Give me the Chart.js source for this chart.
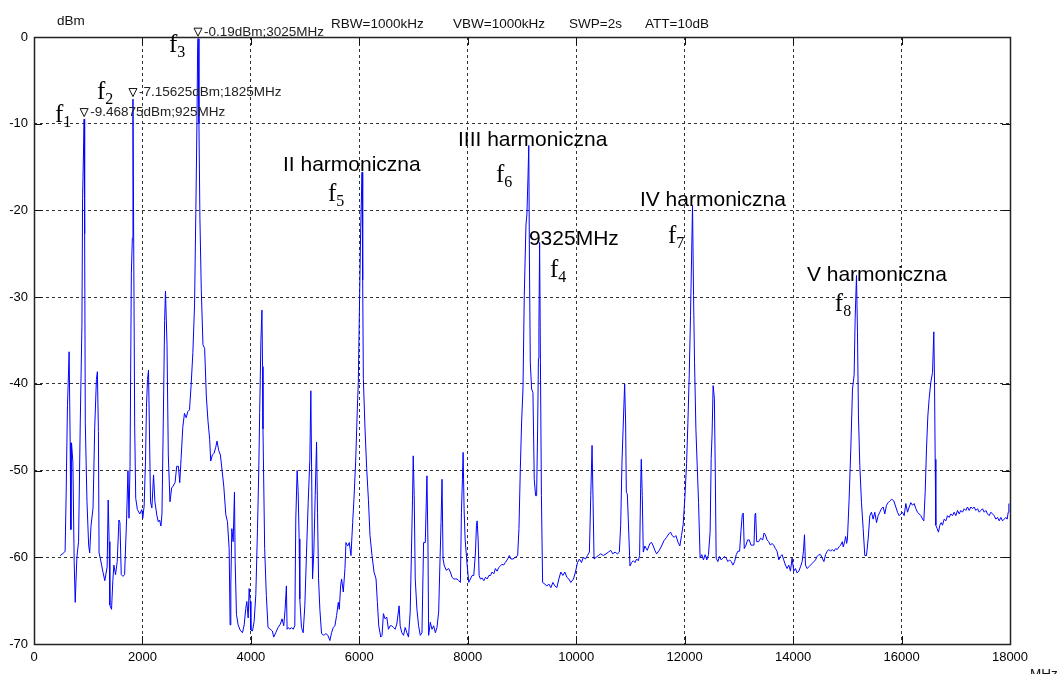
<!DOCTYPE html>
<html>
<head>
<meta charset="utf-8">
<title>Widmo sygnału</title>
<script src="https://cdn.jsdelivr.net/npm/chart.js@4.4.1/dist/chart.umd.min.js"></script>
<style>
  html, body { margin: 0; padding: 0; background: #fff; }
  #wrap { width: 1060px; height: 674px; position: relative; }
  canvas { display: block; }
</style>
</head>
<body>
<div id="wrap"><canvas id="spectrum" width="1060" height="674"></canvas></div>
<script>
// Measured spectrum trace: frequency (MHz) and level (dBm)
const traceMHz = [
  481, 530, 574, 593, 617, 630, 648, 667, 680, 692, 717, 741, 760, 791, 822, 853, 884, 896, 925, 934,
  946, 977, 1008, 1027, 1051, 1089, 1120, 1151, 1169, 1188, 1200, 1225, 1250, 1275, 1306, 1349, 1368, 1386, 1399, 1430,
  1454, 1473, 1504, 1535, 1566, 1585, 1609, 1640, 1671, 1708, 1733, 1752, 1771, 1795, 1814, 1825, 1839, 1857, 1876, 1907,
  1950, 1988, 2006, 2031, 2056, 2074, 2093, 2112, 2130, 2149, 2174, 2205, 2230, 2267, 2291, 2316, 2341, 2360, 2384, 2409,
  2425, 2453, 2477, 2508, 2539, 2564, 2601, 2632, 2663, 2688, 2713, 2744, 2775, 2806, 2837, 2868, 2899, 2930, 2961, 2986,
  3004, 3017, 3025, 3042, 3060, 3085, 3116, 3147, 3178, 3209, 3240, 3259, 3290, 3321, 3352, 3376, 3407, 3438, 3469, 3500,
  3538, 3568, 3599, 3617, 3630, 3648, 3673, 3697, 3710, 3734, 3765, 3802, 3845, 3876, 3906, 3925, 3950, 3968, 3987, 4000,
  4030, 4060, 4091, 4122, 4145, 4162, 4185, 4204, 4215, 4223, 4254, 4285, 4316, 4359, 4396, 4421, 4458, 4501, 4544, 4575,
  4606, 4631, 4655, 4668, 4692, 4717, 4748, 4779, 4810, 4828, 4853, 4871, 4890, 4902, 4933, 4964, 4995, 5026, 5057, 5087,
  5106, 5124, 5137, 5161, 5186, 5211, 5229, 5248, 5272, 5303, 5346, 5383, 5420, 5457, 5488, 5519, 5550, 5581, 5612, 5630,
  5655, 5673, 5704, 5735, 5753, 5784, 5815, 5846, 5877, 5901, 5932, 5963, 5981, 6000, 6025, 6050, 6062, 6074, 6105, 6136,
  6167, 6197, 6234, 6271, 6308, 6333, 6358, 6395, 6419, 6444, 6475, 6506, 6537, 6568, 6598, 6629, 6660, 6691, 6734, 6753,
  6784, 6815, 6845, 6876, 6907, 6938, 6963, 6981, 6994, 7012, 7031, 7062, 7093, 7124, 7155, 7185, 7216, 7247, 7266, 7278,
  7309, 7340, 7371, 7402, 7432, 7463, 7482, 7507, 7525, 7544, 7568, 7605, 7648, 7679, 7710, 7741, 7772, 7803, 7834, 7864,
  7883, 7901, 7914, 7932, 7951, 7988, 8018, 8049, 8080, 8111, 8142, 8160, 8173, 8191, 8209, 8234, 8265, 8296, 8327, 8358,
  8389, 8419, 8447, 8481, 8509, 8540, 8570, 8600, 8631, 8660, 8693, 8736, 8766, 8797, 8834, 8877, 8920, 8944, 8969, 8993,
  9018, 9042, 9073, 9091, 9110, 9125, 9137, 9153, 9177, 9202, 9226, 9251, 9270, 9288, 9303, 9312, 9325, 9340, 9358, 9380,
  9422, 9459, 9496, 9533, 9569, 9606, 9643, 9680, 9716, 9753, 9790, 9827, 9863, 9900, 9949, 9986, 10023, 10060, 10096, 10133,
  10170, 10207, 10243, 10268, 10292, 10311, 10329, 10366, 10409, 10452, 10501, 10550, 10593, 10636, 10673, 10716, 10759, 10795, 10820, 10844,
  10869, 10893, 10911, 10924, 10942, 10960, 10991, 11022, 11053, 11083, 11114, 11145, 11169, 11188, 11200, 11218, 11237, 11267, 11310, 11359,
  11390, 11421, 11451, 11482, 11531, 11574, 11617, 11666, 11709, 11740, 11770, 11807, 11838, 11881, 11911, 11942, 11973, 12004, 12035, 12059,
  12084, 12108, 12127, 12145, 12164, 12182, 12207, 12231, 12256, 12285, 12316, 12347, 12378, 12408, 12439, 12470, 12489, 12505, 12525, 12548,
  12565, 12581, 12612, 12643, 12674, 12704, 12735, 12766, 12797, 12828, 12859, 12890, 12921, 12951, 12982, 13013, 13038, 13062, 13081, 13099,
  13130, 13161, 13192, 13223, 13254, 13278, 13297, 13309, 13328, 13364, 13401, 13439, 13464, 13488, 13519, 13550, 13581, 13611, 13642, 13673,
  13704, 13735, 13766, 13796, 13827, 13858, 13889, 13920, 13951, 13981, 14012, 14043, 14074, 14105, 14136, 14167, 14191, 14210, 14228, 14259,
  14290, 14321, 14352, 14383, 14413, 14444, 14475, 14506, 14537, 14568, 14598, 14629, 14660, 14691, 14722, 14753, 14783, 14814, 14845, 14876,
  14907, 14925, 14950, 14969, 14987, 15002, 15033, 15064, 15095, 15125, 15144, 15169, 15187, 15205, 15230, 15261, 15292, 15322, 15353, 15384,
  15415, 15445, 15476, 15507, 15538, 15568, 15599, 15630, 15661, 15691, 15722, 15753, 15784, 15820, 15857, 15894, 15925, 15956, 15987, 16017,
  16048, 16079, 16110, 16141, 16171, 16202, 16233, 16264, 16294, 16325, 16356, 16387, 16411, 16436, 16460, 16485, 16509, 16540, 16571, 16595,
  16608, 16620, 16632, 16657, 16681, 16706, 16731, 16755, 16786, 16817, 16848, 16878, 16909, 16940, 16970, 17001, 17032, 17063, 17093, 17124,
  17155, 17186, 17216, 17247, 17278, 17309, 17339, 17370, 17401, 17432, 17462, 17493, 17524, 17555, 17585, 17616, 17647, 17678, 17708, 17739,
  17770, 17801, 17831, 17862, 17893, 17924, 17948, 17967, 17979
];

const traceDbm = [
  -59.8, -59.6, -59.3, -52.7, -42.5, -40, -36.3, -46.8, -56.8, -46.8, -49, -60.5, -65.2, -60, -58.2, -44.5, -33.2, -18.6, -9.46875, -22.7,
  -44.5, -53.6, -58.6, -59.5, -56.4, -54.3, -45, -39.5, -38.6, -45.5, -59.5, -60.2, -61, -61.8, -62.7, -61.1, -53.4, -58.2, -65.5, -66,
  -62.7, -60.9, -62, -60.5, -55.7, -56, -62, -62.2, -62, -55.5, -50, -55.5, -49.5, -27.3, -23.2, -7.15625, -23.9, -45, -53.2, -54.5,
  -55, -54.5, -55.5, -54.1, -49, -42.7, -39.5, -38.4, -45.9, -53.6, -54.3, -50.5, -53.6, -55.2, -55.9, -55.7, -56.4, -55, -44.5, -32.7,
  -29.3, -35.5, -48.2, -53.6, -52, -51.8, -51.4, -49.5, -49.5, -51.4, -48.6, -45, -43.4, -43.9, -43.2, -43, -40, -36.4, -30.9, -19.5,
  -10.5, -1.8, -0.19, -10, -20.9, -29.1, -35.5, -35.9, -41.4, -44.3, -46.4, -48.9, -48.2, -48, -47.3, -46.6, -47.7, -48.2, -50, -51.8,
  -55.1, -55.9, -59, -67.8, -63.2, -56.7, -58.2, -52.5, -60.5, -66.6, -67.8, -68.4, -68.7, -67.8, -65.9, -65.1, -67, -63.6, -65.1, -68.4,
  -68.5, -67.4, -64.3, -56.7, -50, -43.3, -35, -31.5, -38, -45.2, -59, -64.4, -68.1, -68.3, -68.5, -69.2, -68.7, -68.1, -67.7, -67.1,
  -67.9, -66, -63.3, -68.3, -68.1, -68.3, -68.1, -68.3, -67.9, -55.6, -50, -52.3, -57.9, -64.8, -68.1, -68.7, -65.6, -59.4, -53.7, -48.7,
  -40.8, -52.5, -62.5, -59.4, -52.9, -46.7, -54.8, -62.5, -66, -68.8, -69, -68.8, -69, -69.6, -68.7, -68.1, -67.9, -66.7, -65.2, -66,
  -63.3, -62.5, -64, -61.3, -58.3, -58.7, -58.3, -59.8, -56, -53.3, -49, -42.9, -39.8, -32, -22, -15.6, -28, -39.4, -45.2, -49.8,
  -53.3, -57.5, -59.8, -61.7, -62.5, -65.2, -67.9, -69.2, -69, -66.5, -67.1, -66.9, -68.3, -67.9, -67.9, -68.1, -68.3, -67.7, -65.6, -67.9,
  -68.7, -69, -68.1, -68.7, -69.2, -66.3, -58.7, -53.3, -48.3, -52.9, -62.5, -66, -67.9, -69, -68.7, -58.3, -58.3, -50.6, -58.7, -69,
  -67.5, -68.3, -67.9, -68.7, -68.1, -66.3, -61.7, -56, -51, -60.2, -61, -61.5, -61.3, -61.7, -62.3, -62.5, -62.5, -62.5, -62.7, -62.9,
  -54.8, -51, -47.9, -54.4, -57.9, -60.9, -62.9, -62.5, -62.1, -62.1, -59.4, -56.3, -55.8, -57.9, -62.1, -62.5, -62.4, -62.7, -62.3, -62.5,
  -62.1, -62.1, -61.7, -61.9, -61.3, -61.6, -61.2, -61, -60.8, -60.9, -60.6, -60.2, -59.8, -60.2, -60.2, -60, -59.8, -56.7, -49.8, -44.4,
  -40.6, -29.8, -21.7, -20.4, -16.3, -12.5, -25.6, -37.5, -40.6, -41, -51, -52.9, -52.9, -45.2, -37.1, -33.5, -23.7, -37.5, -52.9, -62.9,
  -63.1, -63.3, -63.1, -63.5, -62.9, -63.3, -63.5, -62.5, -61.7, -62.1, -61.7, -62.3, -62.5, -62.9, -62.5, -61.7, -60.6, -60.2, -60.6, -60,
  -60.2, -59.8, -59.4, -52.9, -47.1, -53.7, -60.2, -60, -59.8, -59.6, -59.8, -59.6, -59.4, -59.2, -59.6, -59.4, -59.6, -59.4, -56.3, -49,
  -44.4, -40, -44.4, -52.5, -52.7, -55.6, -61, -60.6, -60.4, -60.6, -60.2, -60.4, -59.8, -52.1, -48.7, -52.9, -59.4, -58.7, -59.2, -58.4,
  -58.3, -58.7, -59.2, -59.6, -59.2, -58.7, -58.1, -57.7, -57.3, -57.1, -57.5, -57.7, -57.5, -58.3, -58.7, -57.5, -56.2, -53.1, -49.2, -44.6,
  -39, -32.1, -25.6, -19.4, -29.8, -37.5, -45.2, -49.4, -53.7, -60.1, -59.7, -60.3, -59.7, -60.3, -59.7, -57, -48.6, -45.9, -40.2, -41.7,
  -50.5, -60.1, -60.5, -59.9, -60.3, -60.1, -59.9, -60.1, -60.5, -60.3, -60.5, -60.9, -60.5, -59.7, -59.3, -59.3, -57, -55.1, -54.9, -59,
  -58.6, -58, -58, -58.6, -58.6, -58.6, -55.1, -54.9, -58.2, -58.2, -57.8, -58, -57.2, -57.4, -58, -58.2, -58.6, -58.4, -58.6, -59,
  -59.3, -60.3, -59.9, -59.7, -60.3, -60.9, -61.3, -60.9, -61.6, -60.1, -61.6, -61.3, -61.8, -61.6, -61.1, -60.5, -59.3, -57.4, -60.9, -61.3,
  -61.1, -60.9, -60.7, -60.5, -60.3, -59.9, -59.7, -59.7, -60.1, -60.5, -59.7, -59.3, -59.1, -59.3, -59.1, -59.3, -59, -59.1, -58.8, -58.6,
  -58.2, -58.8, -58.2, -57.6, -58.4, -57.9, -53.3, -47.5, -40.6, -39, -32.5, -27.5, -34, -43.7, -49.4, -53.7, -56.7, -59.8, -59.8, -57.9,
  -55.2, -54.8, -55.6, -54.8, -56, -55.2, -54.8, -54.4, -54.2, -55, -54, -53.7, -53.5, -53.3, -53.5, -54.2, -54.8, -55.2, -55, -54.8,
  -55.2, -53.8, -54.8, -54.2, -53.7, -54, -53.8, -54.4, -54.8, -55, -55.2, -55.6, -55.8, -52.5, -47.5, -43.7, -41.7, -39.8, -38.7, -34,
  -39.8, -48.7, -56.3, -56.7, -57.1, -56.3, -56, -56.3, -55.6, -55.8, -55.2, -55.4, -55, -55.2, -54.8, -55.2, -54.6, -55, -54.6, -54.8,
  -54.4, -54.6, -54.2, -54.6, -54.2, -54.4, -54.2, -54.6, -54.4, -54.8, -54.6, -54.4, -54.8, -54.6, -55, -55.2, -54.8, -55, -55.2, -55.6,
  -55.4, -55.8, -55.4, -55.8, -55.6, -55.4, -55.6, -54.8, -53.8
];

// Axis ticks
const freqTicks = [0, 2000, 4000, 6000, 8000, 10000, 12000, 14000, 16000, 18000];
const levelTicks = [0, -10, -20, -30, -40, -50, -60, -70];

// Analyzer markers (frequency, level, readout)
const markerMHz = [925, 1825, 3025];
const markerDbm = [-9.46875, -7.15625, -0.19];
const markerText = ['-9.46875dBm;925MHz', '-7.15625dBm;1825MHz', '-0.19dBm;3025MHz'];

// Instrument settings line
const settingsText = ['RBW=1000kHz', 'VBW=1000kHz', 'SWP=2s', 'ATT=10dB'];

// Frequency labels f1..f8 (index, anchor MHz, anchor dBm)
const fIndex = ['1', '2', '3', '4', '5', '6', '7', '8'];
const fAnchorMHz = [387, 1162, 2490, 9515, 5421, 8519, 11691, 14770];
const fAnchorDbm = [-9.8, -7.15, -1.75, -27.7, -18.9, -16.7, -23.8, -31.6];

// Harmonic captions (text, anchor MHz, anchor dBm)
const captionText = ['II harmoniczna', 'IIII harmoniczna', '9325MHz', 'IV harmoniczna', 'V harmoniczna'];
const captionMHz = [4592, 7819, 9128, 11175, 14254];
const captionDbm = [-15.5, -12.6, -24.0, -19.5, -28.1];

const SANS = '"Liberation Sans", Arial, sans-serif';
const SERIF = '"Liberation Serif", "Times New Roman", serif';

const points = traceMHz.map((f, i) => ({ x: f, y: traceDbm[i] }));

// Frame with inward tick marks, like an analyzer screen
const framePlugin = {
  id: 'frame',
  afterDatasetsDraw(chart) {
    const { ctx, chartArea: a, scales: { x, y } } = chart;
    ctx.save();
    ctx.strokeStyle = '#111';
    ctx.lineWidth = 1;
    ctx.beginPath();
    freqTicks.forEach(v => {
      const px = Math.round(x.getPixelForValue(v)) + 0.5;
      ctx.moveTo(px, a.bottom); ctx.lineTo(px, a.bottom - 8);
      ctx.moveTo(px, a.top); ctx.lineTo(px, a.top + 8);
    });
    levelTicks.forEach(v => {
      const py = Math.round(y.getPixelForValue(v)) + 0.5;
      ctx.moveTo(a.left, py); ctx.lineTo(a.left + 8, py);
      ctx.moveTo(a.right, py); ctx.lineTo(a.right - 8, py);
    });
    ctx.stroke();
    ctx.lineWidth = 1.5;
    ctx.strokeStyle = '#222';
    ctx.strokeRect(Math.round(a.left) + 0.5, Math.round(a.top) + 0.5,
                   Math.round(a.right - a.left), Math.round(a.bottom - a.top));
    ctx.restore();
  }
};

// Markers, labels and header text
const labelPlugin = {
  id: 'labels',
  afterDraw(chart) {
    const { ctx, chartArea: a, scales: { x, y } } = chart;
    ctx.save();
    ctx.textBaseline = 'alphabetic';
    ctx.textAlign = 'left';

    // unit and settings header
    ctx.fillStyle = '#111';
    ctx.font = '13.5px ' + SANS;
    ctx.fillText('dBm', a.left + 23, a.top - 12);
    const settingsX = [331, 453, 569, 645];
    settingsText.forEach((t, i) => ctx.fillText(t, settingsX[i], a.top - 9));
    ctx.fillText('MHz', a.right + 20, a.bottom + 34);

    // marker triangles with readouts
    markerMHz.forEach((f, i) => {
      const px = x.getPixelForValue(f);
      const py = y.getPixelForValue(markerDbm[i]);
      ctx.strokeStyle = '#111';
      ctx.lineWidth = 1;
      ctx.beginPath();
      ctx.moveTo(px, py - 2.5);
      ctx.lineTo(px - 4, py - 10.5);
      ctx.lineTo(px + 4, py - 10.5);
      ctx.closePath();
      ctx.stroke();
      ctx.fillStyle = '#222';
      ctx.font = '13.5px ' + SANS;
      ctx.fillText(markerText[i], px + 6, py - 3);
    });

    // f labels with subscript
    fIndex.forEach((n, i) => {
      const px = x.getPixelForValue(fAnchorMHz[i]);
      const py = y.getPixelForValue(fAnchorDbm[i]);
      ctx.fillStyle = '#000';
      ctx.font = '25px ' + SERIF;
      ctx.fillText('f', px, py);
      const w = ctx.measureText('f').width;
      ctx.font = '16px ' + SERIF;
      ctx.fillText(n, px + w, py + 5);
    });

    // harmonic captions
    ctx.fillStyle = '#000';
    ctx.font = '21px ' + SANS;
    captionText.forEach((t, i) => {
      ctx.fillText(t, x.getPixelForValue(captionMHz[i]), y.getPixelForValue(captionDbm[i]));
    });
    ctx.restore();
  }
};

new Chart(document.getElementById('spectrum'), {
  type: 'line',
  data: {
    datasets: [{
      data: points,
      borderColor: '#0000ff',
      borderWidth: 1,
      pointRadius: 0,
      tension: 0,
      fill: false
    }]
  },
  options: {
    responsive: false,
    devicePixelRatio: 1,
    animation: false,
    parsing: true,
    layout: { padding: { top: 37, right: 50, left: 0, bottom: 0 } },
    plugins: { legend: { display: false }, tooltip: { enabled: false }, title: { display: false } },
    scales: {
      x: {
        type: 'linear',
        min: 0,
        max: 18000,
        afterBuildTicks: s => { s.ticks = freqTicks.map(v => ({ value: v })); },
        afterFit: s => { s.height = 30; },
        ticks: {
          color: '#000',
          font: { family: SANS, size: 13 },
          padding: 6,
          maxRotation: 0,
          autoSkip: false,
          callback: v => String(v)
        },
        grid: { color: '#333', lineWidth: 1, drawTicks: false },
        border: { display: false, dash: [3, 3] }
      },
      y: {
        type: 'linear',
        min: -70,
        max: 0,
        afterBuildTicks: s => { s.ticks = levelTicks.map(v => ({ value: v })); },
        afterFit: s => { s.width = 34; },
        ticks: {
          color: '#000',
          font: { family: SANS, size: 13 },
          padding: 6,
          autoSkip: false,
          callback: v => String(v)
        },
        grid: { color: '#333', lineWidth: 1, drawTicks: false },
        border: { display: false, dash: [3, 3] }
      }
    }
  },
  plugins: [framePlugin, labelPlugin]
});
</script>
</body>
</html>
